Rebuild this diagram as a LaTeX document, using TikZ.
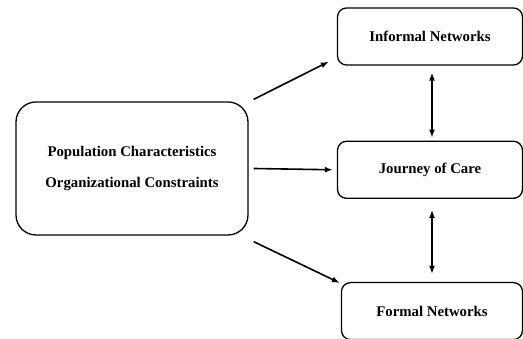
\documentclass[tikz,border=0pt]{standalone}
\usepackage{fontspec}
\setmainfont{Liberation Serif}
\usetikzlibrary{arrows.meta, positioning}

\begin{document}
\begin{tikzpicture}[x=1pt, y=1pt,
    box/.style={draw, line width=1.3pt, rounded corners=9pt, minimum width=185pt,
                minimum height=57pt, font=\fontsize{14.8}{17}\selectfont\bfseries},
    link/.style={line width=1.6pt, -{Latex[length=8pt, width=6pt]}},
    both/.style={line width=1.6pt, {Latex[length=8pt, width=6pt]}-{Latex[length=8pt, width=6pt]}}]
    \useasboundingbox (0,0) rectangle (523,339);
    % 左邊大框,右邊三個框
    \node[box, minimum width=232pt, minimum height=133pt, rounded corners=20pt, align=center]
        (Factors) at (132,170.5) {Population Characteristics\\[14pt]Organizational Constraints};
    \node[box]                          (Informal) at (430,302.5) {Informal Networks};
    \node[box, below=75pt of Informal]  (Journey)  {Journey of Care};
    \node[box, minimum width=181pt, below=83pt of Journey, xshift=2pt] (Formal) {Formal Networks};

    \draw[link] ([xshift=5pt, yshift=2pt]Factors.north east) -- ([xshift=-8pt, yshift=4pt]Informal.south west);
    \draw[link] ([xshift=5pt]Factors.east) -- ([xshift=-4pt]Journey.west);
    \draw[link] ([xshift=5pt, yshift=-6pt]Factors.south east) -- ([xshift=-1pt, yshift=-1pt]Formal.north west);

    \draw[both, shorten <=7pt, shorten >=3pt] ([xshift=2pt]Informal.south) -- ([xshift=2pt]Journey.north);
    \draw[both, shorten <=11pt, shorten >=8pt] ([xshift=2pt]Journey.south) -- ([xshift=2pt]Journey.south |- Formal.north);
\end{tikzpicture}
\end{document}
